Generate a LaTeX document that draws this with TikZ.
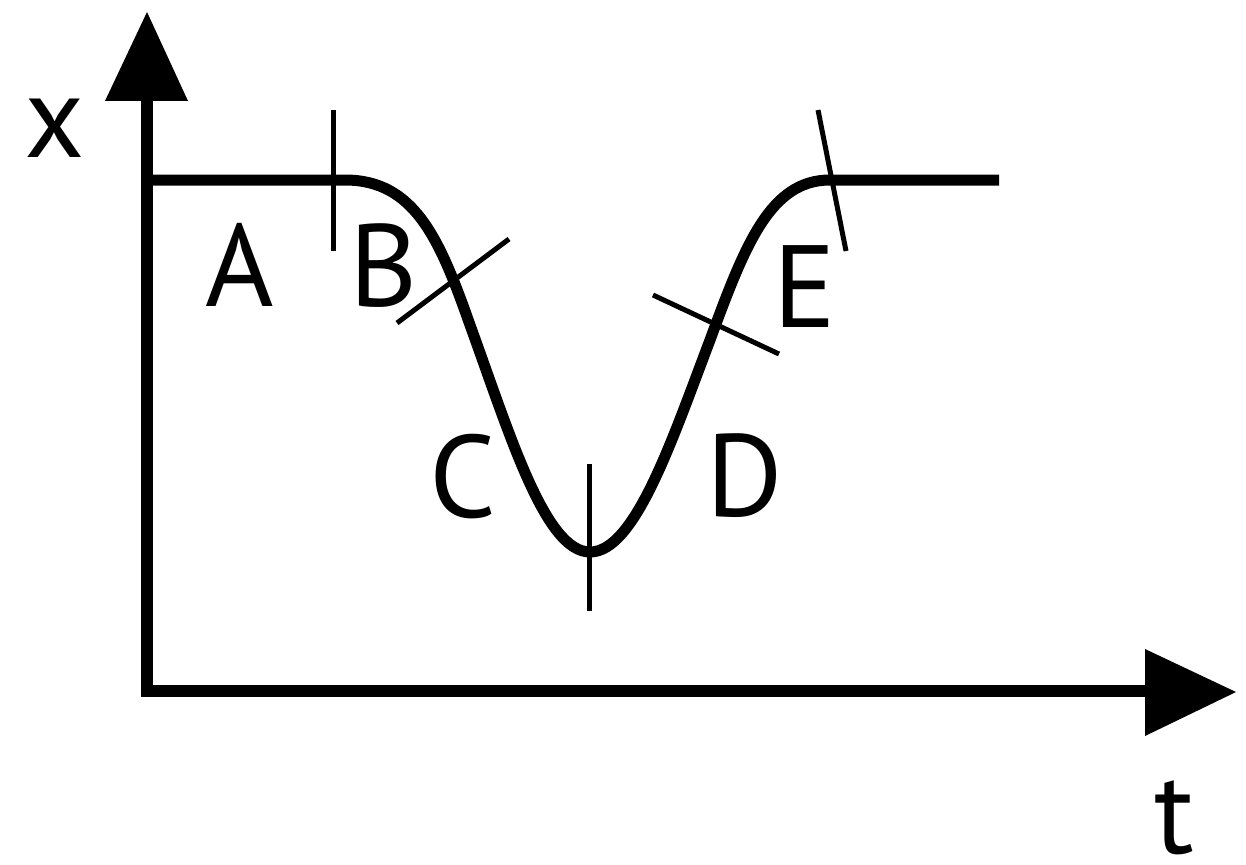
\documentclass[tikz,border=0pt]{standalone}
\usepackage{fontspec}
\setmainfont{PT Sans}
\begin{document}
\begin{tikzpicture}[x=1pt,y=-1pt,
  axis/.style={line width=12pt,line join=miter},
  curve/.style={line width=11pt},
  tick/.style={line width=5pt},
  lab/.style={inner sep=0pt,anchor=base,font=\fontsize{117}{120}\selectfont}]
\useasboundingbox (0,0) rectangle (1246,864);
% axes
\draw[axis] (147,101) -- (147,691) -- (1145,691);
\fill (105,101) -- (188,101) -- (147,12) -- cycle;
\fill (1145,649) -- (1145,736) -- (1236,692) -- cycle;
% curve
\draw[curve] (153,180) -- (345,180)
  .. controls (415,180) and (440,240) .. (470,325)
  .. controls (510,435) and (545,552) .. (590,552)
  .. controls (635,552) and (672,440) .. (710,340)
  .. controls (745,245) and (770,180) .. (830,180)
  -- (999,180);
% ticks
\draw[tick] (333,110) -- (333,251);
\draw[tick] (397,323) -- (509,239);
\draw[tick] (589,464) -- (589,611);
\draw[tick] (653,295) -- (779,354);
\draw[tick] (818,110) -- (846,251);
% labels
\node[lab] (lx) at (55,157) {x};
\node[lab] (lt) at (1174,853) {t};
\node[lab] (la) at (240,306) {A};
\node[lab] (lb) at (384,306) {B};
\node[lab] (lc) at (463,517) {C};
\node[lab] (ld) at (745,516) {D};
\node[lab] (le) at (805,327) {E};
\end{tikzpicture}
\end{document}
